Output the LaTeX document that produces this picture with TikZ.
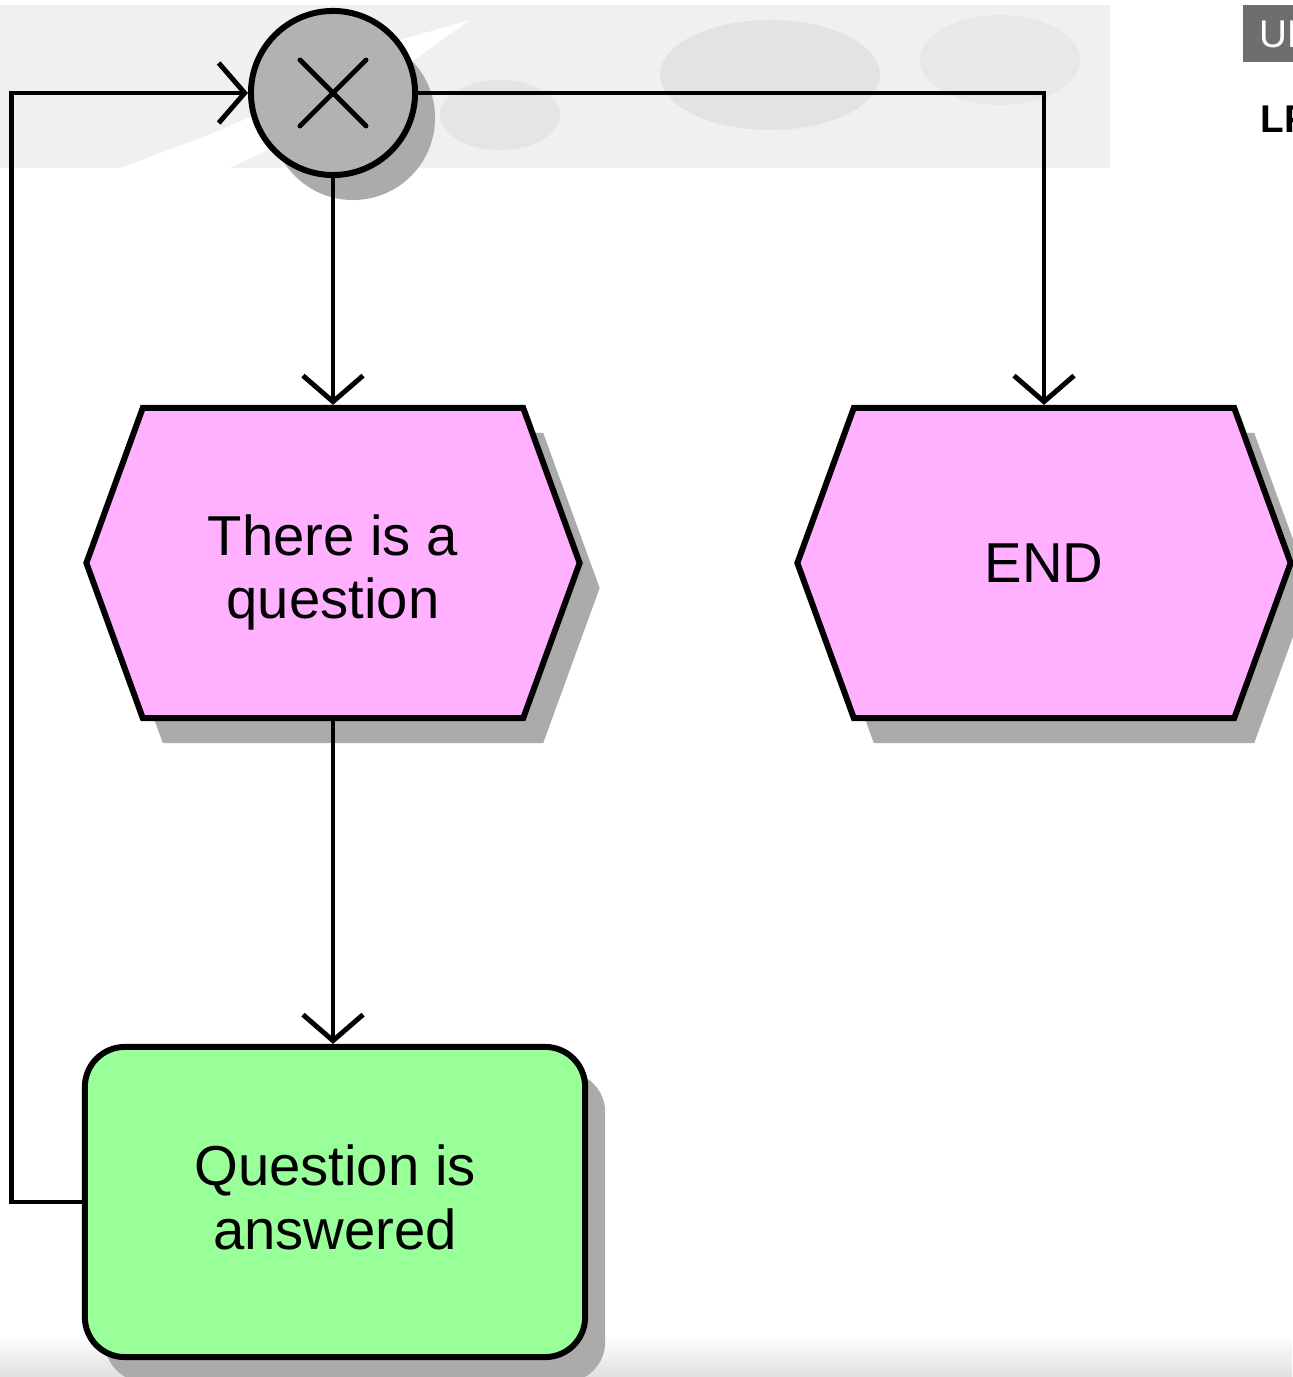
\documentclass[tikz,border=0pt]{standalone}
\usepackage{fontspec}
\setmainfont{Liberation Sans}
\usetikzlibrary{arrows.meta,shapes.symbols,shadows}
\definecolor{evpink}{RGB}{255,176,255}
\definecolor{fngreen}{RGB}{153,255,153}
\begin{document}
\begin{tikzpicture}[x=0.01cm,y=-0.01cm,>={Straight Barb[length=2.6mm,width=6mm]},
	line width=1.4pt,font=\fontsize{16pt}{18pt}\selectfont,
	shad/.style={drop shadow={shadow xshift=0.2cm,shadow yshift=-0.25cm,fill=black!33,opacity=1}},
	event/.style={signal,signal to=east and west,signal pointer angle=140,draw,line width=1.7pt,
		fill=evpink,minimum width=4.93cm,minimum height=3.1cm,align=center,inner sep=0pt,shad},
	func/.style={rectangle,rounded corners=0.4cm,draw,line width=1.7pt,fill=fngreen,
		minimum width=5cm,minimum height=3.1cm,align=center,shad},
	xorgate/.style={circle,draw,line width=1.7pt,fill=black!30,minimum size=1.64cm,inner sep=0pt,shad,
		path picture={\draw[line width=1.4pt,line cap=round]
			(path picture bounding box.center)+(-0.33cm,-0.33cm)--+(0.33cm,0.33cm)
			(path picture bounding box.center)+(-0.33cm,0.33cm)--+(0.33cm,-0.33cm);}},
	corner/.style={anchor=west,inner sep=0pt,font=\fontsize{11pt}{12pt}\selectfont}]
	\useasboundingbox (0,0) rectangle (1292,1377);
	% background
	\fill[black!6] (0,5) rectangle (1110,168);
	\fill[black!11] (770,75) ellipse (110 and 55);
	\fill[black!10] (500,115) ellipse (60 and 35);
	\fill[black!9] (1000,60) ellipse (80 and 45);
	\fill[white] (120,168) .. controls (250,120) .. (400,40) -- (470,20) .. controls (330,120) .. (230,168) -- cycle;
	\shade[top color=white,bottom color=black!12] (0,1335) rectangle (1292,1377);
	\fill[black!57] (1243,5) rectangle (1300,62);
	\node[corner,text=white] (un) at (1257,34) {UN};
	\node[corner,font=\fontsize{11pt}{12pt}\selectfont\bfseries] (lf) at (1258,119) {LF};
	% nodes
	\node[xorgate] (gate) at (333,93) {};
	\node[event] (quest) at (333,563) {\rule{0pt}{0.6cm}There is a\\question};
	\node[event] (end) at (1044,563) {END};
	\node[func] (ans) at (335,1202) {Question is\\answered\rule[-0.1cm]{0pt}{0.1cm}};
	% connectors
	\draw[->] (gate.south) -- (quest.north);
	\draw[->] (gate.east) -| (end.north);
	\draw[->] (quest.south) -- (quest.south |- ans.north);
	\draw[->] (ans.west) -- ++(-70,0) |- (gate.west);
\end{tikzpicture}
\end{document}
